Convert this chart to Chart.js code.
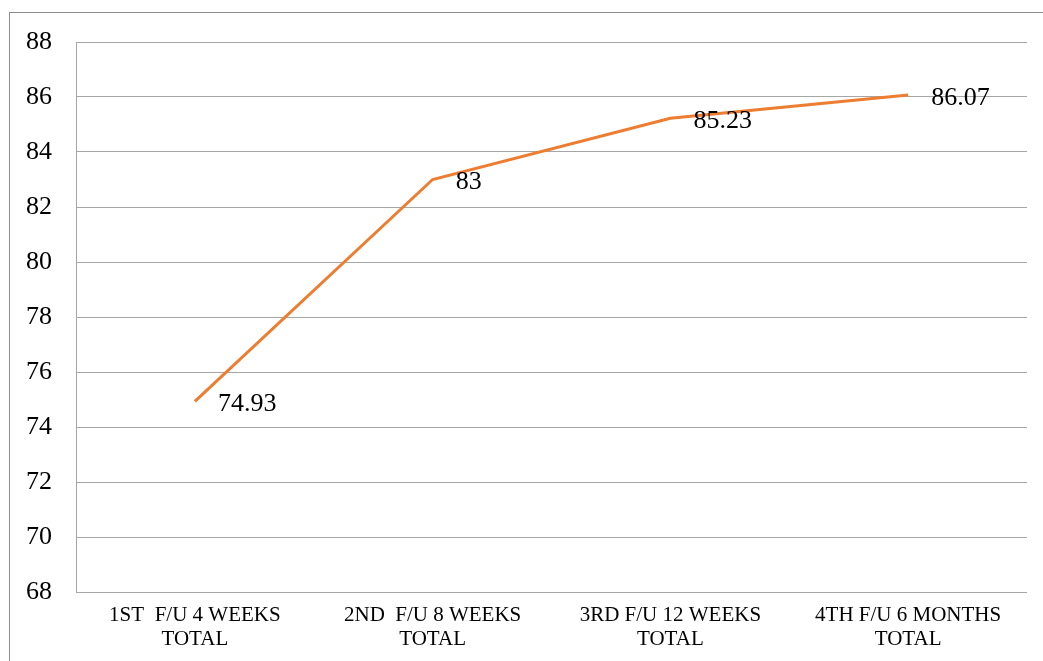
<!DOCTYPE html>
<html>
<head>
<meta charset="utf-8">
<script src="https://cdn.jsdelivr.net/npm/chart.js@4/dist/chart.umd.min.js"></script>
<style>
  html, body { margin: 0; padding: 0; background: #fff; }
  #wrap { position: relative; width: 1043px; height: 661px; }
  #frame { position: absolute; left: 9px; top: 12px; right: 0; bottom: 0;
           border-left: 1px solid #8c8c8c; border-top: 1px solid #8c8c8c; }
  canvas { position: absolute; left: 0; top: 0; }
</style>
</head>
<body>
<div id="wrap">
  <div id="frame"></div>
  <canvas id="chart" width="1043" height="661"></canvas>
</div>
<script>
const categories = [
  ['1ST  F/U 4 WEEKS', 'TOTAL'],
  ['2ND  F/U 8 WEEKS', 'TOTAL'],
  ['3RD F/U 12 WEEKS', 'TOTAL'],
  ['4TH F/U 6 MONTHS', 'TOTAL']
];
const totals = [74.93, 83, 85.23, 86.07];
const yMin = 68;
const yMax = 88;
const yStep = 2;

const serif = '"Liberation Serif", "Times New Roman", serif';

// value labels to the right of each point
const valueLabels = {
  id: 'valueLabels',
  afterDatasetsDraw(chart) {
    const ctx = chart.ctx;
    const meta = chart.getDatasetMeta(0);
    ctx.save();
    ctx.font = '26px ' + serif;
    ctx.fillStyle = '#000';
    ctx.textAlign = 'left';
    ctx.textBaseline = 'middle';
    meta.data.forEach((pt, i) => {
      ctx.fillText(String(totals[i]), pt.x + 23, pt.y + 3);
    });
    ctx.restore();
  }
};

new Chart(document.getElementById('chart').getContext('2d'), {
  type: 'line',
  data: {
    labels: categories,
    datasets: [{
      data: totals,
      borderColor: '#ED7D31',
      borderWidth: 3,
      pointRadius: 0,
      tension: 0,
      fill: false
    }]
  },
  options: {
    responsive: false,
    animation: false,
    layout: { padding: { left: 0, top: 42, right: 16, bottom: 0 } },
    plugins: {
      legend: { display: false },
      tooltip: { enabled: false }
    },
    scales: {
      x: {
        offset: true,
        grid: { display: false, drawTicks: false },
        border: { display: false },
        ticks: {
          color: '#000',
          font: { family: serif, size: 21, lineHeight: 1.14 },
          padding: 12,
          maxRotation: 0,
          autoSkip: false
        },
        afterFit(scale) { scale.height = 69; }
      },
      y: {
        min: yMin,
        max: yMax,
        grid: { color: '#a6a6a6', lineWidth: 1, drawTicks: false },
        border: { display: true, color: '#a6a6a6', width: 1 },
        ticks: {
          stepSize: yStep,
          color: '#000',
          font: { family: serif, size: 26 },
          padding: 24
        },
        afterFit(scale) { scale.width = 76; }
      }
    }
  },
  plugins: [valueLabels]
});
</script>
</body>
</html>
